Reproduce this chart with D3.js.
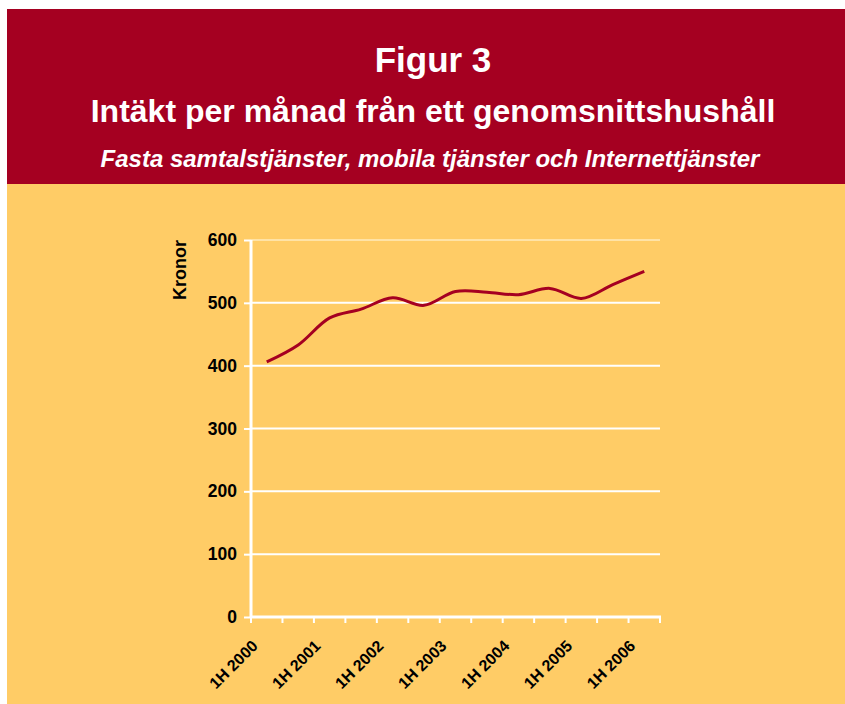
<!DOCTYPE html>
<html>
<head>
<meta charset="utf-8">
<script src="https://cdn.jsdelivr.net/npm/d3@7"></script>
<style>
body { margin: 0; background: #fff; font-family: "Liberation Sans", Arial, sans-serif; }
</style>
</head>
<body>
<div id="chart"></div>
<script>
// half-year periods
var periods = ["1H 2000", "2H 2000", "1H 2001", "2H 2001", "1H 2002", "2H 2002", "1H 2003",
               "2H 2003", "1H 2004", "2H 2004", "1H 2005", "2H 2005", "1H 2006"];
// kronor per month
var kronor = [406, 433, 476, 490, 508, 496, 518, 517, 513, 523, 507, 529, 550];
var yTicks = [0, 100, 200, 300, 400, 500, 600];

var W = 845, H = 704;
var red = "#a50021", orange = "#ffcc66";

var svg = d3.select("#chart").append("svg")
  .attr("width", W).attr("height", H);

// background boxes
svg.append("rect").attr("x", 7).attr("y", 184).attr("width", W - 7).attr("height", H - 184).attr("fill", orange);
svg.append("rect").attr("x", 7).attr("y", 9).attr("width", W - 7).attr("height", 175).attr("fill", red);

// titles
svg.append("text").attr("x", 433).attr("y", 72).attr("text-anchor", "middle")
  .attr("fill", "#fff").attr("font-size", 35).attr("font-weight", "bold").text("Figur 3");
svg.append("text").attr("x", 433).attr("y", 122).attr("text-anchor", "middle")
  .attr("fill", "#fff").attr("font-size", 32).attr("font-weight", "bold").text("Intäkt per månad från ett genomsnittshushåll");
svg.append("text").attr("x", 430).attr("y", 167).attr("text-anchor", "middle")
  .attr("fill", "#fff").attr("font-size", 24).attr("font-weight", "bold").attr("font-style", "italic")
  .text("Fasta samtalstjänster, mobila tjänster och Internettjänster");

var x = d3.scaleBand().domain(periods).range([251, 660]);
var y = d3.scaleLinear().domain([0, 600]).range([617, 240]);

// gridlines
svg.append("g").selectAll("line").data(yTicks.filter(function(d) { return d > 0; }))
  .enter().append("line")
  .attr("x1", 251).attr("x2", 660)
  .attr("y1", function(d) { return y(d); }).attr("y2", function(d) { return y(d); })
  .attr("stroke", function(d) { return d == 600 ? "#ffe3a6" : "#fff"; })
  .attr("stroke-width", 2);

// y axis
var yAxis = svg.append("g").attr("transform", "translate(251,0)")
  .call(d3.axisLeft(y).tickValues(yTicks).tickSize(7).tickPadding(7));
yAxis.select(".domain").attr("stroke", "#fff").attr("stroke-width", 3).attr("d", "M0," + y(600) + "V" + y(0));
yAxis.selectAll(".tick line").attr("stroke", "#fff").attr("stroke-width", 2);
yAxis.selectAll(".tick text").attr("fill", "#000").attr("font-size", 17.5).attr("font-weight", "bold")
  .attr("font-family", "Liberation Sans, Arial, sans-serif");

// x axis (ticks at band edges)
var xAxisG = svg.append("g");
xAxisG.append("line").attr("x1", 250).attr("x2", 661).attr("y1", 617).attr("y2", 617)
  .attr("stroke", "#fff").attr("stroke-width", 3);
var edges = periods.map(function(p) { return x(p); }).concat([x(periods[periods.length - 1]) + x.bandwidth()]);
xAxisG.selectAll("line.tk").data(edges).enter().append("line").attr("class", "tk")
  .attr("x1", function(d) { return d; }).attr("x2", function(d) { return d; })
  .attr("y1", 617).attr("y2", 623).attr("stroke", "#fff").attr("stroke-width", 2);
xAxisG.selectAll("text").data(periods.filter(function(p) { return p.indexOf("1H") == 0; }))
  .enter().append("text")
  .attr("transform", function(p) {
    return "translate(" + (x(p) + x.bandwidth() / 2 - 8) + ",647) rotate(-45)";
  })
  .attr("text-anchor", "end").attr("font-size", 16).attr("font-weight", "bold")
  .attr("fill", "#000").text(function(p) { return p; });

// y label
svg.append("text").attr("transform", "translate(186,270) rotate(-90)")
  .attr("text-anchor", "middle").attr("font-size", 18).attr("font-weight", "bold").attr("fill", "#000")
  .text("Kronor");

// the line
var line = d3.line()
  .x(function(d, i) { return x(periods[i]) + x.bandwidth() / 2; })
  .y(function(d) { return y(d); })
  .curve(d3.curveCatmullRom);
svg.append("path").datum(kronor)
  .attr("fill", "none").attr("stroke", red).attr("stroke-width", 3)
  .attr("d", line);
</script>
</body>
</html>
